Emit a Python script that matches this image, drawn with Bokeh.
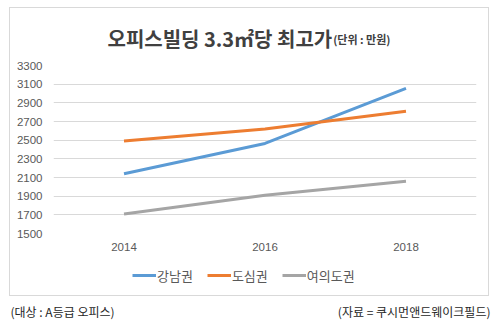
from bokeh.plotting import figure
from bokeh.layouts import column
from bokeh.models import FactorRange, Range1d, FixedTicker, Legend, LegendItem
from bokeh.core.properties import value
from bokeh.embed import file_html
from bokeh.resources import INLINE

# ---- data ----
years = ["2014", "2016", "2018"]
gangnam = [2140, 2465, 3055]      # 강남권
dosim = [2490, 2620, 2810]        # 도심권
yeouido = [1710, 1910, 2060]      # 여의도권
y_ticks = [1500, 1700, 1900, 2100, 2300, 2500, 2700, 2900, 3100, 3300]
series_names = ["강남권", "도심권", "여의도권"]
series_colors = ["#5B9BD5", "#ED7D31", "#A5A5A5"]

title_main = "오피스빌딩 3.3㎡당 최고가"
title_unit = "(단위 : 만원)"
note_left = "(대상 : A등급 오피스)"
note_right = "(자료 = 쿠시먼앤드웨이크필드)"

KR = "Noto Sans CJK KR"
NUM = "Liberation Sans"

INNER_W, TITLE_H, CHART_H, LEG_H = 478, 47, 200, 40


def blank(fig):
    fig.axis.visible = False
    fig.grid.visible = False
    fig.outline_line_color = None
    fig.background_fill_color = "white"
    fig.border_fill_color = "white"
    return fig


# ---- title ----
tf = blank(figure(width=INNER_W, height=TITLE_H, output_backend="svg", toolbar_location=None,
                  x_range=Range1d(0, INNER_W), y_range=Range1d(TITLE_H, 0),
                  min_border=0))
tf.text(x=[315], y=[30], text=[title_main], text_align="right", text_baseline="alphabetic",
        text_font=value(KR), text_font_style="bold", text_font_size="20px", text_color="#404040")
tf.text(x=[316], y=[30], text=[title_unit], text_align="left", text_baseline="alphabetic",
        text_font=value(KR), text_font_style="bold", text_font_size="11px", text_color="#404040")

# ---- chart ----
p = figure(width=INNER_W, height=CHART_H, output_backend="svg", toolbar_location=None,
           x_range=FactorRange(*years, range_padding=0),
           y_range=Range1d(y_ticks[0], y_ticks[-1]),
           min_border_left=43, min_border_right=12,
           min_border_top=10, min_border_bottom=22)
p.background_fill_color = "white"
p.border_fill_color = "white"
p.outline_line_color = None

p.yaxis.ticker = FixedTicker(ticks=y_ticks)
p.yaxis.axis_line_color = None
p.yaxis.major_tick_line_color = None
p.yaxis.minor_tick_line_color = None
p.yaxis.major_tick_out = 0
p.yaxis.major_tick_in = 0
p.yaxis.major_label_standoff = 11
p.yaxis.major_label_text_font = NUM
p.yaxis.major_label_text_font_size = "11.5px"
p.yaxis.major_label_text_color = "#595959"

p.xaxis.axis_line_color = None
p.xaxis.major_tick_line_color = None
p.xaxis.major_tick_out = 0
p.xaxis.major_tick_in = 0
p.xaxis.major_label_standoff = 9
p.xaxis.major_label_text_font = NUM
p.xaxis.major_label_text_font_size = "11.5px"
p.xaxis.major_label_text_color = "#595959"

p.xgrid.grid_line_color = None
p.ygrid.grid_line_color = "#D9D9D9"
p.ygrid.grid_line_width = 1

for vals, col in zip([gangnam, dosim, yeouido], series_colors):
    p.line(years, vals, line_color=col, line_width=3)

# ---- legend (own strip, keys drawn with the same styles) ----
lf = blank(figure(width=INNER_W, height=LEG_H, output_backend="svg", toolbar_location=None,
                  x_range=Range1d(0, 1), y_range=Range1d(0, 1), min_border=0))
nan = float("nan")
keys = [lf.line(x=[nan, nan], y=[nan, nan], line_color=c, line_width=3) for c in series_colors]
legend = Legend(items=[LegendItem(label=n, renderers=[r], index=0) for n, r in zip(series_names, keys)],
                orientation="horizontal", location=(79, 10),
                glyph_width=24, glyph_height=20, label_standoff=1, spacing=14,
                padding=0, margin=0, border_line_color=None, background_fill_alpha=0,
                label_text_font=KR, label_text_font_size="13px", label_text_color="#595959")
lf.add_layout(legend)

box = column(tf, p, lf, margin=(7, 0, 0, 9),
             styles={"border": "1px solid #D9D9D9"})

# ---- notes ----
nf = blank(figure(width=495, height=26, output_backend="svg", toolbar_location=None,
                  x_range=Range1d(0, 495), y_range=Range1d(26, 0), min_border=0))
nf.text(x=[10], y=[15], text=[note_left], text_align="left", text_baseline="middle",
        text_font=value(KR), text_font_size="12px", text_color="#262626")
nf.text(x=[490], y=[15], text=[note_right], text_align="right", text_baseline="middle",
        text_font=value(KR), text_font_size="12px", text_color="#262626")

layout = column(box, nf, margin=0)

open("out.html", "w").write(file_html(layout, INLINE))
